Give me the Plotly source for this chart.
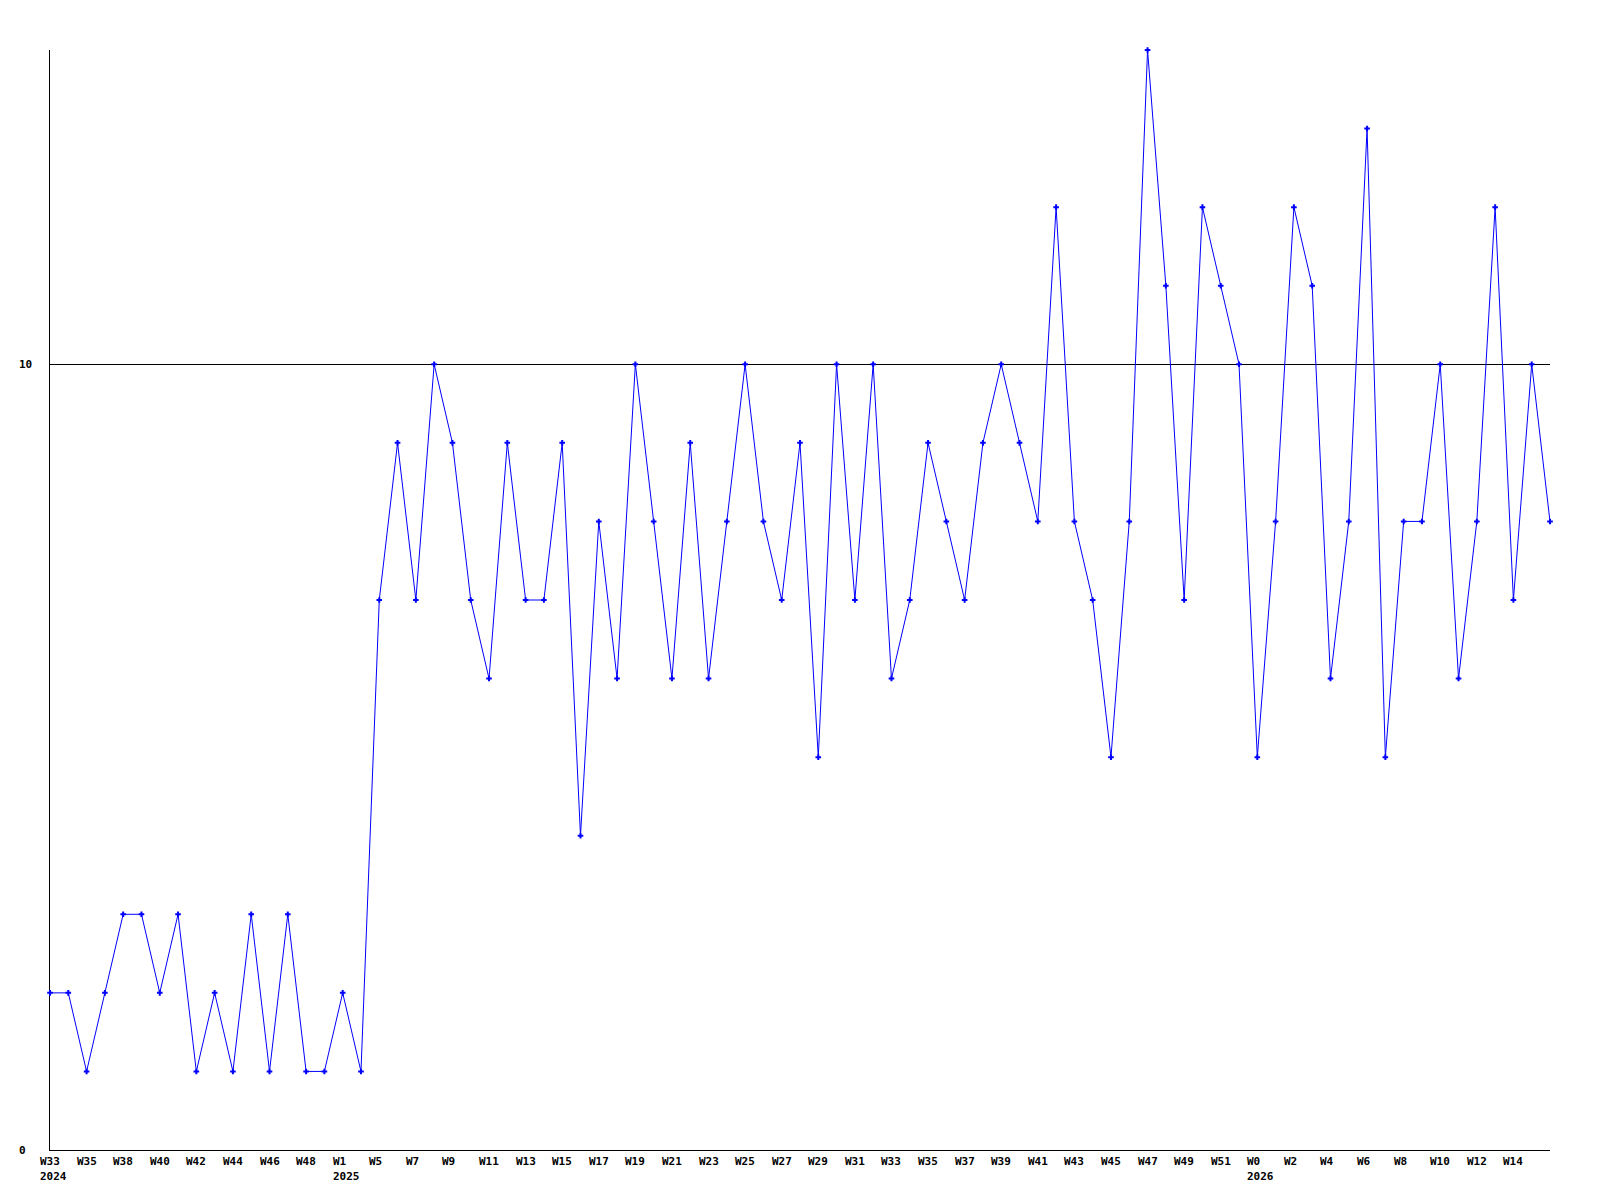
import plotly.graph_objects as go

# Weekly values
values = [2, 2, 1, 2, 3, 3, 2, 3, 1, 2,
          1, 3, 1, 3, 1, 1, 2, 1, 7, 9,
          7, 10, 9, 7, 6, 9, 7, 7, 9, 4,
          8, 6, 10, 8, 6, 9, 6, 8, 10, 8,
          7, 9, 5, 10, 7, 10, 6, 7, 9, 8,
          7, 9, 10, 9, 8, 12, 8, 7, 5, 8,
          14, 11, 7, 12, 11, 10, 5, 8, 12, 11,
          6, 8, 13, 5, 8, 8, 10, 6, 8, 12,
          7, 10, 8]

# Tick labels shown under every second point
tick_labels = ["W33", "W35", "W38", "W40", "W42", "W44", "W46", "W48",
               "W1", "W5", "W7", "W9", "W11", "W13", "W15", "W17", "W19",
               "W21", "W23", "W25", "W27", "W29", "W31", "W33", "W35",
               "W37", "W39", "W41", "W43", "W45", "W47", "W49", "W51",
               "W0", "W2", "W4", "W6", "W8", "W10", "W12", "W14"]
year_labels = {0: "2024", 8: "2025", 33: "2026"}
y_tick_values = [0, 10]

x = list(range(len(values)))
tick_x = x[::2]

font = dict(family="DejaVu Sans Mono", size=11, color="black", weight="bold")

fig = go.Figure()
fig.add_trace(go.Scatter(
    x=x, y=values, mode="lines+markers",
    line=dict(color="#0000ff", width=1),
    marker=dict(symbol="cross-thin", size=4, color="#0000ff",
                line=dict(color="#0000ff", width=2)),
    cliponaxis=False, hoverinfo="x+y",
))

for i, (xv, lab) in enumerate(zip(tick_x, tick_labels)):
    fig.add_annotation(x=xv, xref="x", y=0, yref="paper", text=lab,
                       showarrow=False, xanchor="left", yanchor="top",
                       align="left", xshift=-10, yshift=-5,
                       borderpad=0, borderwidth=0, font=font)
    if i in year_labels:
        fig.add_annotation(x=xv, xref="x", y=0, yref="paper",
                           text=year_labels[i], showarrow=False,
                           xanchor="left", yanchor="top", align="left",
                           xshift=-10, yshift=-20,
                           borderpad=0, borderwidth=0, font=font)

for yv in y_tick_values:
    fig.add_annotation(x=0, xref="paper", y=yv, yref="y", text=str(yv),
                       showarrow=False, xanchor="left", yanchor="middle",
                       xshift=-31, borderpad=0, borderwidth=0, font=font)

fig.update_layout(
    width=1600, height=1200, autosize=False,
    margin=dict(l=50, r=50, t=50, b=50, pad=0),
    paper_bgcolor="white", plot_bgcolor="white",
    showlegend=False,
    xaxis=dict(range=[0, len(values) - 1], showline=True, linecolor="black",
               linewidth=1, showgrid=False, zeroline=False,
               showticklabels=False, ticks="", layer="below traces"),
    yaxis=dict(range=[0, 14], showline=True, linecolor="black", linewidth=1,
               tickvals=[10], showgrid=True, gridcolor="black", gridwidth=1,
               zeroline=False, showticklabels=False, ticks="",
               layer="below traces"),
)

fig.write_html("out.html", config={"displayModeBar": False},
               post_script="document.body.style.margin='0';document.body.style.overflow='hidden';")
